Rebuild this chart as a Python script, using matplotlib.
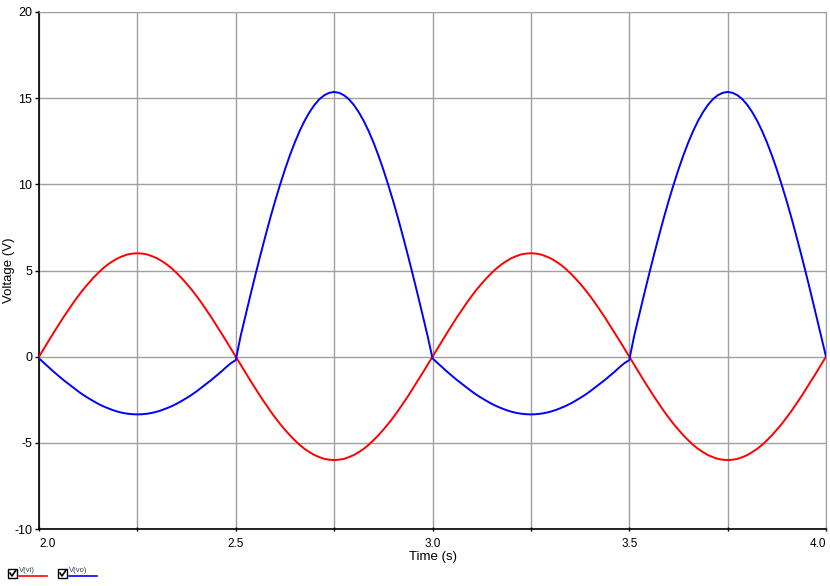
import numpy as np
import matplotlib
matplotlib.use("Agg")
import matplotlib.pyplot as plt
from matplotlib.lines import Line2D
from matplotlib.patches import Rectangle

# Tiempo (s), paso de 0.0125 s
time = np.round(np.arange(161) * 0.0125 + 2.0, 5)

# V(vi)
v_vi = [
    0.0, 0.47, 0.94, 1.40, 1.85, 2.30, 2.72, 3.14, 3.53, 3.90,
    4.24, 4.56, 4.85, 5.12, 5.35, 5.54, 5.71, 5.83, 5.93, 5.98,
    6.0, 5.98, 5.93, 5.83, 5.71, 5.54, 5.35, 5.12, 4.85, 4.56,
    4.24, 3.90, 3.53, 3.14, 2.72, 2.30, 1.85, 1.40, 0.94, 0.47,
    0.0, -0.47, -0.94, -1.40, -1.85, -2.30, -2.72, -3.14, -3.53, -3.90,
    -4.24, -4.56, -4.85, -5.12, -5.35, -5.54, -5.71, -5.83, -5.93, -5.98,
    -6.0, -5.98, -5.93, -5.83, -5.71, -5.54, -5.35, -5.12, -4.85, -4.56,
    -4.24, -3.90, -3.53, -3.14, -2.72, -2.30, -1.85, -1.40, -0.94, -0.47,
    0.0, 0.47, 0.94, 1.40, 1.85, 2.30, 2.72, 3.14, 3.53, 3.90,
    4.24, 4.56, 4.85, 5.12, 5.35, 5.54, 5.71, 5.83, 5.93, 5.98,
    6.0, 5.98, 5.93, 5.83, 5.71, 5.54, 5.35, 5.12, 4.85, 4.56,
    4.24, 3.90, 3.53, 3.14, 2.72, 2.30, 1.85, 1.40, 0.94, 0.47,
    0.0, -0.47, -0.94, -1.40, -1.85, -2.30, -2.72, -3.14, -3.53, -3.90,
    -4.24, -4.56, -4.85, -5.12, -5.35, -5.54, -5.71, -5.83, -5.93, -5.98,
    -6.0, -5.98, -5.93, -5.83, -5.71, -5.54, -5.35, -5.12, -4.85, -4.56,
    -4.24, -3.90, -3.53, -3.14, -2.72, -2.30, -1.85, -1.40, -0.94, -0.47,
    0.0,
]

# V(vo)
v_vo = [
    -0.1, -0.36, -0.62, -0.88, -1.12, -1.36, -1.58, -1.80, -2.02, -2.22,
    -2.40, -2.57, -2.73, -2.87, -2.99, -3.10, -3.19, -3.26, -3.31, -3.34,
    -3.35, -3.34, -3.31, -3.26, -3.19, -3.10, -2.99, -2.87, -2.73, -2.57,
    -2.40, -2.22, -2.02, -1.80, -1.58, -1.36, -1.12, -0.88, -0.62, -0.38,
    -0.2, 1.21, 2.40, 3.59, 4.75, 5.88, 6.97, 8.03, 9.03, 9.97,
    10.86, 11.68, 12.43, 13.10, 13.69, 14.19, 14.61, 14.94, 15.17, 15.31,
    15.36, 15.31, 15.17, 14.94, 14.61, 14.19, 13.69, 13.10, 12.43, 11.68,
    10.86, 9.97, 9.03, 8.03, 6.97, 5.88, 4.75, 3.59, 2.40, 1.21,
    -0.1, -0.36, -0.62, -0.88, -1.12, -1.36, -1.58, -1.80, -2.02, -2.22,
    -2.40, -2.57, -2.73, -2.87, -2.99, -3.10, -3.19, -3.26, -3.31, -3.34,
    -3.35, -3.34, -3.31, -3.26, -3.19, -3.10, -2.99, -2.87, -2.73, -2.57,
    -2.40, -2.22, -2.02, -1.80, -1.58, -1.36, -1.12, -0.88, -0.62, -0.38,
    -0.2, 1.21, 2.40, 3.59, 4.75, 5.88, 6.97, 8.03, 9.03, 9.97,
    10.86, 11.68, 12.43, 13.10, 13.69, 14.19, 14.61, 14.94, 15.17, 15.31,
    15.36, 15.31, 15.17, 14.94, 14.61, 14.19, 13.69, 13.10, 12.43, 11.68,
    10.86, 9.97, 9.03, 8.03, 6.97, 5.88, 4.75, 3.59, 2.40, 1.21,
    0.0,
]

x_ticks = [2.0, 2.25, 2.5, 2.75, 3.0, 3.25, 3.5, 3.75, 4.0]
x_labels = ["2.0", "", "2.5", "", "3.0", "", "3.5", "", "4.0"]
y_ticks = [-10, -5, 0, 5, 10, 15, 20]
series_names = ["V(vi)", "V(vo)"]

plt.rcParams["font.family"] = ["Liberation Sans", "DejaVu Sans"]

fig = plt.figure(figsize=(8.3, 5.86), dpi=100)
ax = fig.add_axes([39 / 830, 1 - 529 / 586, 787 / 830, 517 / 586])

red = "#ff0000"
blue = "#0000ff"
ax.plot(time, v_vi, color=red, lw=1.4, zorder=3)
ax.plot(time, v_vo, color=blue, lw=1.4, zorder=3)

ax.set_xlim(2.0, 4.0)
ax.set_ylim(-10, 20)
ax.set_xticks(x_ticks)
ax.set_xticklabels(x_labels, fontsize=8.5)
ax.set_yticks(y_ticks)
ax.set_yticklabels([str(v) for v in y_ticks], fontsize=9)
labs = ax.get_xticklabels()
labs[0].set_ha("left")
labs[-1].set_ha("right")

ax.grid(True, color="#a0a0a0", lw=1)
ax.tick_params(axis="both", length=3, width=1, color="black", pad=2)
ax.tick_params(axis="x", direction="inout", pad=5)
for s in ["top", "right"]:
    ax.spines[s].set_color("#a0a0a0")
for s in ["left", "bottom"]:
    ax.spines[s].set_color("black")
    ax.spines[s].set_linewidth(1.2)

ax.set_xlabel("Time (s)", fontsize=9.5, labelpad=1)
fig.text(9 / 830, 1 - 270 / 586, "Voltage (V)", fontsize=9.5,
         rotation=90, ha="center", va="center")

# leyenda tipo casilla
colors = [red, blue]
for i, name in enumerate(series_names):
    x0 = 8 + i * 50
    fig.add_artist(Rectangle((x0 / 830, 1 - 578 / 586), 9 / 830, 9 / 586,
                             transform=fig.transFigure, fill=False,
                             edgecolor="black", lw=1))
    fig.add_artist(Line2D([(x0 + 2) / 830, (x0 + 4) / 830, (x0 + 8) / 830],
                          [1 - 573 / 586, 1 - 576 / 586, 1 - 570 / 586],
                          transform=fig.transFigure, color="black", lw=1.2))
    fig.text((x0 + 11) / 830, 1 - 572 / 586, name, fontsize=5.5, color="#404040")
    fig.add_artist(Line2D([(x0 + 11) / 830, (x0 + 39) / 830],
                          [1 - 576 / 586, 1 - 576 / 586],
                          transform=fig.transFigure, color=colors[i], lw=1.2))

fig.savefig("out.png", dpi=100)
